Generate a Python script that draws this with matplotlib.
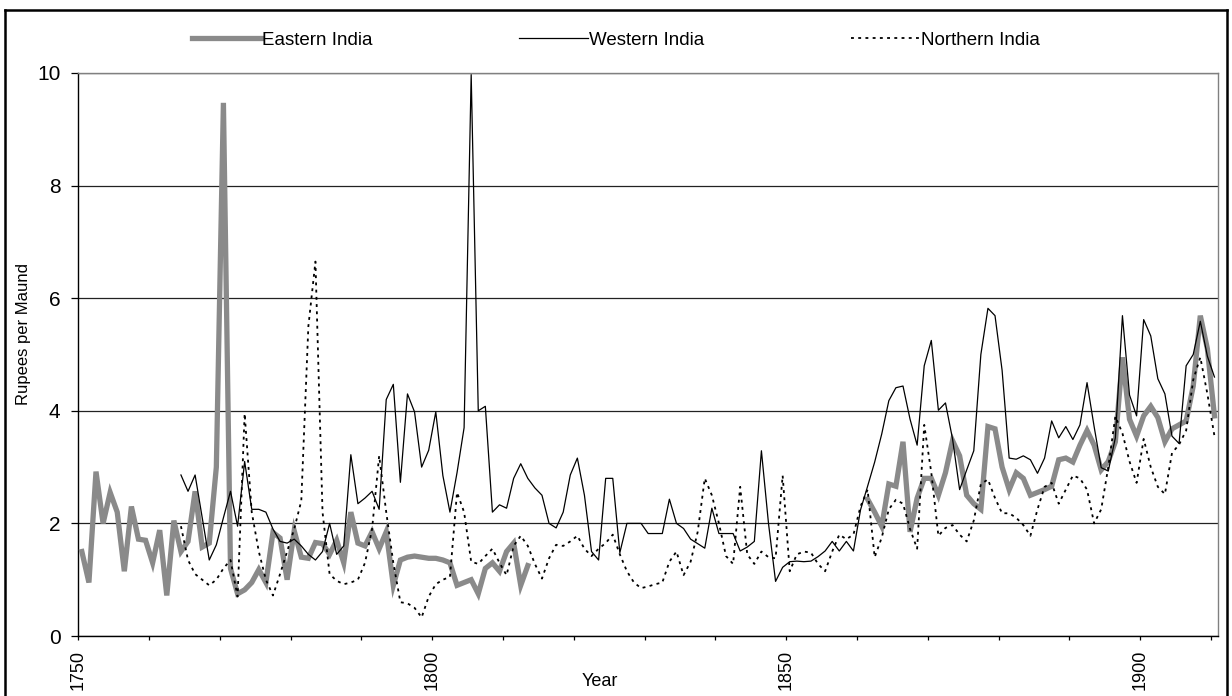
import numpy as np
import matplotlib
matplotlib.use("Agg")
import matplotlib.pyplot as plt
from matplotlib.lines import Line2D

plt.rcParams['font.family'] = ['Liberation Sans', 'DejaVu Sans']

# ---------------- data ----------------
eastern_early_start = 1750
eastern_early = [1.5, 0.95, 2.92, 2.0, 2.55, 2.2, 1.15, 2.3, 1.72, 1.7,
                 1.3, 1.88, 0.72, 2.05, 1.5, 1.68, 2.57, 1.58, 1.65, 3.0,
                 9.47, 1.2, 0.75, 0.82, 0.95, 1.18, 0.95, 1.84, 1.74, 1.0,
                 1.87, 1.4, 1.38, 1.66, 1.64, 1.45, 1.7, 1.3, 2.2, 1.65,
                 1.6, 1.85, 1.55, 1.85, 0.9, 1.35, 1.4, 1.42, 1.4, 1.38,
                 1.38, 1.35, 1.3, 0.9, 0.95, 1.0, 0.75, 1.2, 1.3, 1.15,
                 1.5, 1.65, 0.9, 1.25]

eastern_late_start = 1861
eastern_late = [2.43, 2.2, 1.95, 2.7, 2.66, 3.45, 1.85, 2.45, 2.8, 2.8,
                2.5, 2.9, 3.47, 3.2, 2.5, 2.35, 2.25, 3.72, 3.68, 3.0,
                2.6, 2.9, 2.8, 2.5, 2.55, 2.6, 2.66, 3.13, 3.16, 3.09,
                3.39, 3.65, 3.39, 2.95, 3.1, 3.45, 4.95, 3.85, 3.55, 3.91,
                4.08, 3.88, 3.45, 3.68, 3.75, 3.82, 4.44, 5.69, 5.1, 3.91]

western_start = 1764
western = [2.86, 2.57, 2.86, 2.1, 1.35, 1.62, 2.1, 2.57, 1.95, 3.1,
           2.25, 2.25, 2.2, 1.9, 1.68, 1.65, 1.72, 1.6, 1.45, 1.35,
           1.5, 2.0, 1.45, 1.6, 3.22, 2.35, 2.45, 2.57, 2.25, 4.2,
           4.47, 2.73, 4.3, 3.98, 3.0, 3.3, 3.98, 2.85, 2.2, 2.9,
           3.7, 9.97, 4.0, 4.08, 2.2, 2.33, 2.27, 2.8, 3.06, 2.8,
           2.63, 2.5, 2.0, 1.92, 2.2, 2.86, 3.16, 2.5, 1.5, 1.35,
           2.8, 2.8, 1.48, 2.0, 2.0, 2.0, 1.82, 1.82, 1.82, 2.43,
           2.0, 1.91, 1.72, 1.64, 1.56, 2.27, 1.82, 1.82, 1.82, 1.51,
           1.58, 1.68, 3.29, 2.0, 0.97, 1.22, 1.32, 1.33, 1.32, 1.33,
           1.41, 1.51, 1.68, 1.51, 1.68, 1.51, 2.24, 2.66, 3.09, 3.59,
           4.18, 4.41, 4.44, 3.85, 3.39, 4.8, 5.25, 4.01, 4.14, 3.5,
           2.6, 2.95, 3.29, 5.0, 5.82, 5.69, 4.72, 3.16, 3.14, 3.2,
           3.13, 2.89, 3.16, 3.82, 3.52, 3.72, 3.49, 3.75, 4.5, 3.72,
           2.99, 2.93, 3.52, 5.69, 4.28, 3.91, 5.62, 5.33, 4.57, 4.3,
           3.55, 3.42, 4.8, 5.0, 5.59, 4.97, 4.6]

northern_start = 1764
northern = [1.95, 1.35, 1.1, 1.0, 0.9, 1.0, 1.2, 1.35, 0.7, 3.95,
            2.2, 1.5, 1.0, 0.72, 1.1, 1.5, 1.9, 2.4, 5.5, 6.65,
            2.2, 1.1, 0.98, 0.92, 0.95, 1.0, 1.3, 1.9, 3.2, 2.2,
            1.3, 0.6, 0.58, 0.5, 0.33, 0.7, 0.92, 1.0, 1.05, 2.55,
            2.2, 1.32, 1.28, 1.42, 1.55, 1.3, 1.08, 1.6, 1.78, 1.6,
            1.28, 1.02, 1.38, 1.62, 1.6, 1.68, 1.78, 1.55, 1.42, 1.55,
            1.65, 1.8, 1.45, 1.15, 0.95, 0.85, 0.88, 0.92, 0.95, 1.32,
            1.5, 1.08, 1.32, 1.85, 2.8, 2.5, 2.0, 1.42, 1.28, 2.65,
            1.45, 1.28, 1.5, 1.4, 1.38, 2.85, 1.15, 1.45, 1.5, 1.48,
            1.28, 1.15, 1.5, 1.8, 1.72, 1.8, 2.3, 2.6, 1.4, 1.75,
            2.25, 2.42, 2.35, 1.9, 1.55, 3.75, 2.9, 1.78, 1.92, 1.97,
            1.8, 1.68, 2.05, 2.7, 2.78, 2.45, 2.18, 2.18, 2.1, 1.97,
            1.78, 2.25, 2.65, 2.72, 2.35, 2.6, 2.85, 2.8, 2.6, 2.0,
            2.25, 3.0, 3.9, 3.6, 3.1, 2.72, 3.5, 3.0, 2.65, 2.52,
            3.25, 3.4, 3.65, 4.55, 4.95, 4.3, 3.55]

series_names = ["Eastern India", "Western India", "Northern India"]
x_tick_labels = ["1750", "1800", "1850", "1900"]
y_ticks = [0, 2, 4, 6, 8, 10]


def yrs(start, vals):
    return np.arange(start, start + len(vals))


# ---------------- figure ----------------
W, H = 1232, 696
fig = plt.figure(figsize=(W / 100, H / 100), dpi=100)
ax = fig.add_axes([78.3 / W, 1 - 636 / H, (1218 - 78.3) / W, (636 - 73) / H])

gray = '#8a8a8a'
ax.plot(yrs(eastern_early_start, eastern_early), eastern_early, color=gray, lw=3.8,
        solid_joinstyle='miter', zorder=3)
ax.plot(yrs(eastern_late_start, eastern_late), eastern_late, color=gray, lw=3.8,
        solid_joinstyle='miter', zorder=3)
ax.plot(yrs(western_start, western), western, color='black', lw=0.9, zorder=4)
ax.plot(yrs(northern_start, northern), northern, color='black', lw=1.3,
        linestyle=(0, (1.6, 2.4)), zorder=5)

# category axis: each year occupies one slot
ax.set_xlim(1749.5, 1910.5)
ax.set_ylim(0, 10)
ax.set_yticks(y_ticks)
ax.set_yticklabels([str(v) for v in y_ticks])
xt = np.arange(1749.5, 1910.5, 10)
ax.set_xticks(xt)
labs = []
for t in xt:
    yr = int(t + 0.5)
    labs.append(str(yr) if str(yr) in x_tick_labels else "")
ax.set_xticklabels(labs, rotation=90)

ax.grid(axis='y', color='#222222', lw=0.9)
ax.set_axisbelow(True)
ax.tick_params(axis='y', direction='out', length=5.3, width=0.9, pad=7.5,
               labelsize=15)
ax.tick_params(axis='x', direction='out', length=3, width=0.9, pad=7,
               labelsize=13)
for s in ['left', 'bottom']:
    ax.spines[s].set_color('black')
    ax.spines[s].set_linewidth(1.0)
for s in ['right', 'top']:
    ax.spines[s].set_color('#808080')
    ax.spines[s].set_linewidth(1.0)

fig.text(24 / W, 1 - 334 / H, "Rupees per Maund", rotation=90, ha='center',
         va='center', fontsize=12)
fig.text(600 / W, 1 - 682 / H, "Year", ha='center', va='center', fontsize=13)

# legend
handles = [Line2D([], [], color=gray, lw=3.8),
           Line2D([], [], color='black', lw=0.9),
           Line2D([], [], color='black', lw=1.3, linestyle=(0, (1.6, 2.4)))]
fig.legend(handles, series_names, loc='center', bbox_to_anchor=(616 / W, 1 - 40 / H),
           ncol=3, frameon=False, fontsize=13.5, handlelength=3.7,
           handletextpad=0.05, columnspacing=7.8)

# outer chart frame
fig.add_artist(Line2D([5 / W, 5 / W], [0, 1 - 10 / H], color='black', lw=1.8,
                      transform=fig.transFigure))
fig.add_artist(Line2D([5 / W, 1227 / W], [1 - 10 / H, 1 - 10 / H], color='black',
                      lw=1.8, transform=fig.transFigure))
fig.add_artist(Line2D([1227 / W, 1227 / W], [0, 1 - 10 / H], color='black', lw=1.8,
                      transform=fig.transFigure))

fig.savefig("out.png", dpi=100)
